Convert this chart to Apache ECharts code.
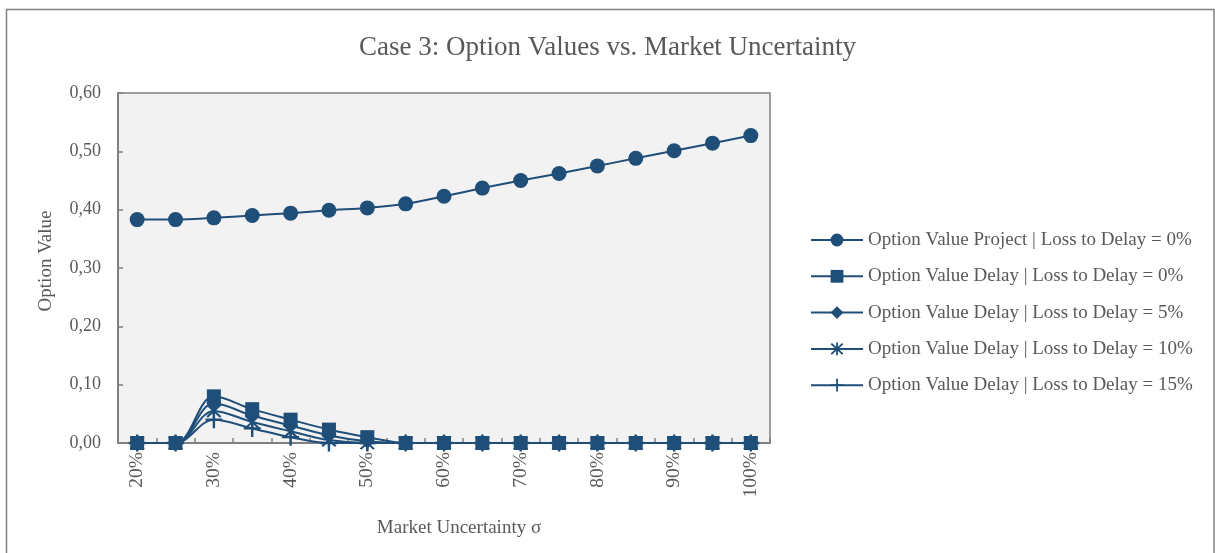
<!DOCTYPE html>
<html>
<head>
<meta charset="utf-8">
<script src="https://cdn.jsdelivr.net/npm/echarts@6/dist/echarts.min.js"></script>
<style>
html,body{margin:0;padding:0;background:#fff;}
#chart{width:1215px;height:553px;}
</style>
</head>
<body>
<div id="chart"></div>
<script>
var categories = ['20%','25%','30%','35%','40%','45%','50%','55%','60%','65%','70%','75%','80%','85%','90%','95%','100%'];
var projectLoss0 = [0.383,0.383,0.386,0.390,0.394,0.399,0.403,0.410,0.423,0.437,0.450,0.462,0.475,0.488,0.501,0.514,0.527];
var delayLoss0  = [0,0,0.080,0.058,0.040,0.023,0.010,0,0,0,0,0,0,0,0,0,0];
var delayLoss5  = [0,0,0.068,0.047,0.030,0.013,0.003,0,0,0,0,0,0,0,0,0,0];
var delayLoss10 = [0,0,0.055,0.036,0.020,0.005,0,0,0,0,0,0,0,0,0,0,0];
var delayLoss15 = [0,0,0.040,0.025,0.010,0,0,0,0,0,0,0,0,0,0,0,0];
var seriesNames = [
  'Option Value Project | Loss to Delay = 0%',
  'Option Value Delay | Loss to Delay = 0%',
  'Option Value Delay | Loss to Delay = 5%',
  'Option Value Delay | Loss to Delay = 10%',
  'Option Value Delay | Loss to Delay = 15%'
];

var FONT = '"Liberation Serif","Times New Roman",serif';
var TXT = '#595959';
var BLUE = '#1F4E79';
var asteriskPath = 'path://M8.7 0h2.6v20h-2.6Z M0.9 2.8L2.8 0.9L19.1 17.2L17.2 19.1Z M17.2 0.9L19.1 2.8L2.8 19.1L0.9 17.2Z';
var plusPath = 'path://M8.6 0h2.8v20h-2.8Z M0 8.6h20v2.8h-20Z';

function mk(name, data, symbol, size, z) {
  return {
    name: name, type: 'line', data: data,
    smooth: 0.35,
    symbol: symbol, symbolSize: size,
    z: z,
    lineStyle: {color: BLUE, width: 2},
    itemStyle: {color: BLUE},
    emphasis: {disabled: true}
  };
}

var chart = echarts.init(document.getElementById('chart'), null, {renderer: 'canvas'});
chart.setOption({
  animation: false,
  backgroundColor: '#ffffff',
  title: {
    text: 'Case 3: Option Values vs. Market Uncertainty',
    left: 'center', top: 29,
    textStyle: {fontFamily: FONT, fontSize: 27, fontWeight: 'normal', color: TXT}
  },
  graphic: [{
    type: 'rect', silent: true,
    shape: {x: 6.5, y: 9.5, width: 1207.5, height: 600},
    style: {fill: 'none', stroke: '#808080', lineWidth: 1.5}
  }],
  legend: {
    orient: 'vertical', left: 810, top: 230.5, padding: 0,
    itemWidth: 52, itemHeight: 16, itemGap: 17.3,
    textStyle: {fontFamily: FONT, fontSize: 19, lineHeight: 19, color: TXT},
    data: seriesNames
  },
  grid: {
    left: 118, top: 93, width: 652, height: 350,
    show: true, backgroundColor: '#F2F2F2', borderColor: '#808080', borderWidth: 1.5
  },
  xAxis: {
    type: 'category', data: categories, boundaryGap: true,
    name: 'Market Uncertainty σ', nameLocation: 'middle', nameGap: 75.5,
    nameTextStyle: {fontFamily: FONT, fontSize: 19, color: TXT, padding: [0,0,0,30]},
    axisLine: {lineStyle: {color: '#808080', width: 2}},
    axisTick: {show: true, inside: true, length: 5, interval: 0, lineStyle: {color: '#808080', width: 1.5}},
    axisLabel: {interval: 1, rotate: 90, margin: 9, fontFamily: FONT, fontSize: 19.5, color: TXT},
    splitLine: {show: false}
  },
  yAxis: {
    type: 'value', min: 0, max: 0.6, interval: 0.1,
    name: 'Option Value', nameLocation: 'middle', nameGap: 62.5,
    nameTextStyle: {fontFamily: FONT, fontSize: 19, color: TXT, padding: [0,0,0,14]},
    axisLine: {show: true, lineStyle: {color: '#808080', width: 2}},
    axisTick: {show: true, inside: true, length: 5, lineStyle: {color: '#808080', width: 1.5}},
    axisLabel: {margin: 17, fontFamily: FONT, fontSize: 18, color: TXT,
      formatter: function (v) { return v.toFixed(2).replace('.', ','); }},
    splitLine: {show: false}
  },
  series: [
    mk(seriesNames[0], projectLoss0, 'circle', 15, 7),
    mk(seriesNames[1], delayLoss0, 'rect', 14, 6),
    mk(seriesNames[2], delayLoss5, 'diamond', 15, 5),
    mk(seriesNames[3], delayLoss10, asteriskPath, 15, 4),
    mk(seriesNames[4], delayLoss15, plusPath, 17, 3)
  ]
});
</script>
</body>
</html>
